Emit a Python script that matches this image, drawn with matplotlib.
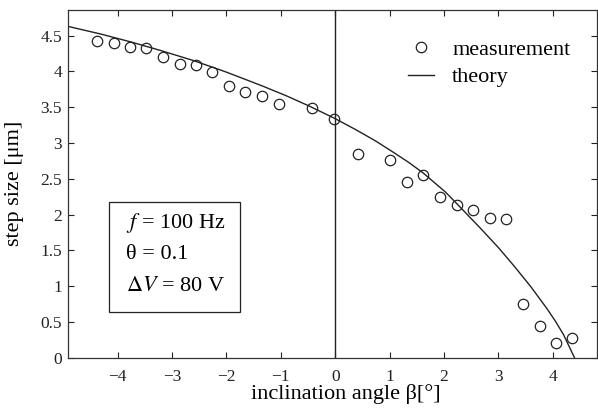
import numpy as np
import matplotlib.pyplot as plt
from matplotlib.patches import Rectangle

beta_meas = [-4.38, -4.07, -3.77, -3.47, -3.17, -2.86, -2.56, -2.27, -1.96, -1.65, -1.35, -1.04,
             -0.43, -0.03, 0.41, 1.01, 1.32, 1.62, 1.93, 2.24, 2.53, 2.84, 3.14, 3.45, 3.76, 4.06, 4.36]
step_meas = [4.43, 4.39, 4.34, 4.32, 4.20, 4.11, 4.09, 3.99, 3.79, 3.71, 3.66, 3.54,
             3.49, 3.33, 2.84, 2.76, 2.45, 2.55, 2.24, 2.14, 2.06, 1.95, 1.94, 0.75, 0.45, 0.21, 0.28]

# theory curve, sampled from the figure
beta_theory = [-4.92, -4.3, -3.75, -3.2, -2.6, -2.0, -1.35, -0.9, -0.46, 0.0, 0.37, 0.74, 1.07,
               1.35, 1.62, 2.02, 2.24, 2.67, 3.0, 3.28, 3.6, 3.89, 4.05, 4.2, 4.4]
step_theory = [4.63, 4.52, 4.41, 4.29, 4.15, 3.99, 3.80, 3.66, 3.51, 3.34, 3.19, 3.03, 2.87,
               2.73, 2.58, 2.32, 2.15, 1.81, 1.54, 1.29, 0.99, 0.69, 0.51, 0.32, 0.0]

xticks = [-4, -3, -2, -1, 0, 1, 2, 3, 4]
yticks = [0, 0.5, 1, 1.5, 2, 2.5, 3, 3.5, 4, 4.5]
ytick_labels = ['0', '0.5', '1', '1.5', '2', '2.5', '3', '3.5', '4', '4.5']
box_lines = ['$f$ = 100 Hz', '\u03b8 = 0.1', '$\\Delta V$ = 80 V']

plt.rcParams['font.family'] = ['Liberation Serif', 'DejaVu Serif']
plt.rcParams['mathtext.fontset'] = 'stix'

fig = plt.figure(figsize=(5.98, 4.09), dpi=100)
ax = fig.add_axes([0.113, 0.125, 0.886, 0.851])

ax.plot(beta_meas, step_meas, 'o', mfc='none', mec='#222222', ms=7.5, mew=0.9, label='measurement')
ax.plot(beta_theory, step_theory, '-', color='#222222', lw=1.0, label='theory')
ax.axvline(0, color='#222222', lw=1.0)

ax.set_xlim(-4.92, 4.82)
ax.set_ylim(0, 4.86)
ax.set_xticks(xticks)
ax.set_xticklabels(['\u2212' + str(-t) if t < 0 else str(t) for t in xticks])
ax.set_yticks(yticks)
ax.set_yticklabels(ytick_labels)
ax.tick_params(direction='in', top=True, right=True, length=4, width=0.8,
               labelsize=12.5, colors='#222222')
ax.tick_params(axis='x', pad=8)
ax.tick_params(axis='y', pad=4)
for s in ax.spines.values():
    s.set_linewidth(0.9)
    s.set_color('#333333')

ax.set_xlabel('inclination angle \u03b2[\u00b0]', fontsize=16)
ax.set_ylabel('step size [\u03bcm]', fontsize=16)
ax.xaxis.set_label_coords(0.526, -0.074)
ax.yaxis.set_label_coords(-0.083, 0.5)

ax.legend(loc='upper left', bbox_to_anchor=(0.625, 0.94), frameon=False, fontsize=16,
          handlelength=1.2, handletextpad=0.8, labelspacing=0.3, borderaxespad=0)

# parameter box
ax.add_patch(Rectangle((0.078, 0.132), 0.248, 0.316, transform=ax.transAxes,
                       fc='white', ec='#222222', lw=0.9))
for txt, yy in zip(box_lines, [0.388, 0.296, 0.204]):
    ax.text(0.110, yy, txt, transform=ax.transAxes, fontsize=16, va='center', ha='left')

fig.savefig('out.png', dpi=100)
